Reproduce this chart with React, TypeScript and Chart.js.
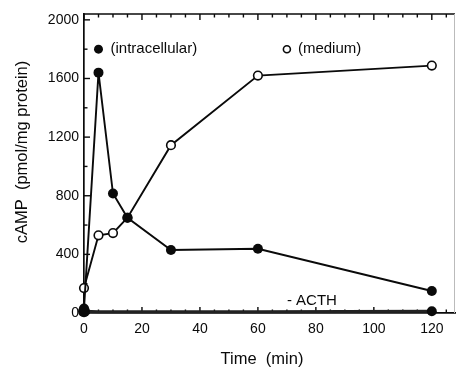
import React, { useEffect, useRef } from "react";
import { Chart, registerables } from "chart.js";

Chart.register(...registerables);

const times = [0, 5, 10, 15, 30, 60, 120];
const intracellular = [30, 1640, 815, 650, 430, 438, 150];
const medium = [170, 530, 545, 650, 1145, 1620, 1688];
const acthTimes = [0, 5, 10, 15, 30, 60, 120];
const acth = [12, 8, 8, 8, 8, 8, 12];
const xTickValues = [0, 20, 40, 60, 80, 100, 120];
const yTickValues = [0, 400, 800, 1200, 1600, 2000];
const xMinorStep = 5;
const yMinorStep = 200;
const xTitle = "Time  (min)";
const yTitle = "cAMP  (pmol/mg protein)";
const labelIntra = "(intracellular)";
const labelMedium = "(medium)";
const labelActh = "- ACTH";
const legendIntraPos = { x: 5, y: 1800 };
const legendMediumPos = { x: 70, y: 1800 };
const acthLabelPos = { x: 70, y: 85 };

const FONT = "'Liberation Sans', Arial, Helvetica, sans-serif";
const INK = "#0a0a0a";

const framePlugin = {
  id: "framePlugin",
  beforeDatasetsDraw(chart: any) {
    const { ctx, chartArea } = chart;
    const xs = chart.scales.x;
    const ys = chart.scales.y;
    ctx.save();
    ctx.strokeStyle = INK;
    ctx.lineWidth = 1.6;
    ctx.beginPath();
    ctx.moveTo(chartArea.left, chartArea.top);
    ctx.lineTo(chartArea.right, chartArea.top);
    ctx.stroke();
    ctx.strokeStyle = "#bbb";
    ctx.lineWidth = 1;
    ctx.beginPath();
    ctx.moveTo(chartArea.right - 0.5, chartArea.top);
    ctx.lineTo(chartArea.right - 0.5, chartArea.bottom);
    ctx.stroke();
    ctx.strokeStyle = INK;
    ctx.lineWidth = 1.4;
    for (let v = xs.min; v <= xs.max; v += xMinorStep) {
      const px = xs.getPixelForValue(v);
      const major = v % 20 === 0;
      const len = major ? 6 : 3.5;
      ctx.beginPath();
      ctx.moveTo(px, chartArea.bottom);
      ctx.lineTo(px, chartArea.bottom - len);
      ctx.moveTo(px, chartArea.top);
      ctx.lineTo(px, chartArea.top + len);
      ctx.stroke();
    }
    for (let v = 0; v <= ys.max; v += yMinorStep) {
      const py = ys.getPixelForValue(v);
      const major = v % 400 === 0;
      const len = major ? 6 : 3.5;
      ctx.beginPath();
      ctx.moveTo(chartArea.left, py);
      ctx.lineTo(chartArea.left + len, py);
      ctx.stroke();
    }
    ctx.restore();
  },
  afterDraw(chart: any) {
    const { ctx } = chart;
    const xs = chart.scales.x;
    const ys = chart.scales.y;
    ctx.save();
    ctx.fillStyle = INK;
    ctx.strokeStyle = INK;
    const ix = xs.getPixelForValue(legendIntraPos.x);
    const iy = ys.getPixelForValue(legendIntraPos.y);
    ctx.beginPath();
    ctx.arc(ix, iy, 4.5, 0, Math.PI * 2);
    ctx.fill();
    const mx = xs.getPixelForValue(legendMediumPos.x);
    const my = ys.getPixelForValue(legendMediumPos.y);
    ctx.lineWidth = 1.6;
    ctx.beginPath();
    ctx.arc(mx, my, 3.5, 0, Math.PI * 2);
    ctx.stroke();
    ctx.font = `15px ${FONT}`;
    ctx.textAlign = "left";
    ctx.textBaseline = "middle";
    ctx.fillText(labelIntra, ix + 12, iy);
    ctx.fillText(labelMedium, mx + 11, my);
    ctx.fillText(labelActh, xs.getPixelForValue(acthLabelPos.x), ys.getPixelForValue(acthLabelPos.y));
    ctx.font = `16.5px ${FONT}`;
    ctx.textAlign = "center";
    ctx.fillText(xTitle, 262, 359);
    ctx.translate(22, 152);
    ctx.rotate(-Math.PI / 2);
    ctx.fillText(yTitle, 0, 0);
    ctx.restore();
  },
};

export default function App() {
  const ref = useRef<HTMLCanvasElement | null>(null);
  useEffect(() => {
    if (!ref.current) return;
    const chart = new Chart(ref.current, {
      type: "line",
      data: {
        datasets: [
          {
            label: "intracellular",
            data: times.map((t, i) => ({ x: t, y: intracellular[i] })),
            borderColor: INK,
            backgroundColor: INK,
            borderWidth: 1.9,
            pointRadius: 5,
            pointBackgroundColor: INK,
            pointBorderColor: INK,
            pointBorderWidth: 0,
            order: 0,
          },
          {
            label: "medium",
            data: times.map((t, i) => ({ x: t, y: medium[i] })),
            borderColor: INK,
            backgroundColor: "#fff",
            borderWidth: 1.9,
            pointRadius: 4.3,
            pointBackgroundColor: "#fff",
            pointBorderColor: INK,
            pointBorderWidth: 1.6,
            order: 1,
          },
          {
            label: "- ACTH",
            data: acthTimes.map((t, i) => ({ x: t, y: acth[i] })),
            borderColor: "#222",
            backgroundColor: INK,
            borderWidth: 3,
            pointRadius: acthTimes.map((_, i) => (i === 0 ? 6 : i === acthTimes.length - 1 ? 5 : 0)),
            pointBackgroundColor: INK,
            pointBorderWidth: 0,
            order: 2,
          },
        ],
      },
      options: {
        responsive: false,
        animation: false,
        clip: false,
        layout: { padding: { top: 14, right: 1, left: 0, bottom: 0 } },
        plugins: { legend: { display: false }, tooltip: { enabled: false } },
        scales: {
          x: {
            type: "linear",
            min: 0,
            max: 128,
            afterFit: (s: any) => {
              s.height = 55;
            },
            afterBuildTicks: (s: any) => {
              s.ticks = xTickValues.map((v) => ({ value: v }));
            },
            grid: { display: false, drawTicks: false },
            border: { display: true, color: INK, width: 1.7 },
            ticks: {
              color: INK,
              font: { family: FONT, size: 14 },
              padding: 8,
              maxRotation: 0,
              autoSkip: false,
              callback: (v: any) => String(v),
            },
          },
          y: {
            type: "linear",
            min: 0,
            max: 2040,
            afterFit: (s: any) => {
              s.width = 84;
            },
            afterBuildTicks: (s: any) => {
              s.ticks = yTickValues.map((v) => ({ value: v }));
            },
            grid: { display: false, drawTicks: false },
            border: { display: true, color: INK, width: 1.7 },
            ticks: {
              color: INK,
              font: { family: FONT, size: 14 },
              padding: 5,
              autoSkip: false,
              callback: (v: any) => String(v),
            },
          },
        },
      },
      plugins: [framePlugin],
    });
    return () => chart.destroy();
  }, []);
  return (
    <div style={{ position: "absolute", left: 0, top: 0, width: 461, height: 368, background: "#fff" }}>
      <canvas ref={ref} width={461} height={368} />
    </div>
  );
}
